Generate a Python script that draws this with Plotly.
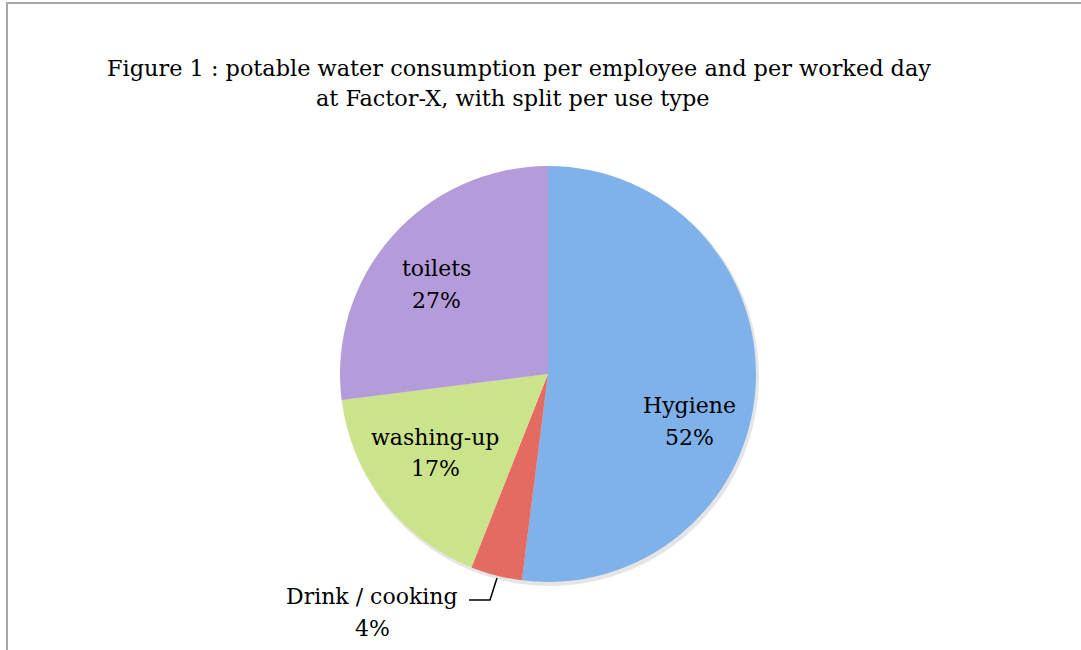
import plotly.graph_objects as go

categories = ["Hygiene", "Drink / cooking", "washing-up", "toilets"]
values = [52, 4, 17, 27]
colors = ["#7fb2ea", "#e46b62", "#cbe48c", "#b49bd9"]
title_lines = ["Figure 1 : potable water consumption per employee and per worked day",
               "at Factor-X, with split per use type"]

W, H = 1081, 650
cx, cy, r = 548, 374, 208

fig = go.Figure()
fig.add_trace(go.Pie(
    labels=categories, values=values, sort=False, direction="clockwise", rotation=0,
    marker=dict(colors=colors, line=dict(width=0)),
    textinfo="none", hoverinfo="label+percent", showlegend=False,
    domain=dict(x=[(cx - r) / W, (cx + r) / W], y=[1 - (cy + r) / H, 1 - (cy - r) / H]),
))

font = "DejaVu Serif"
total = sum(values)
# (x, y of first line, y of second line) in pixels
label_pos = {
    "Hygiene": (689, 405, 437),
    "Drink / cooking": (372, 596, 628),
    "washing-up": (435, 437, 468),
    "toilets": (436, 268, 300),
}
annotations = []
for c, v in zip(categories, values):
    x, y1, y2 = label_pos[c]
    for txt, yy in ((c, y1), (f"{round(100 * v / total)}%", y2)):
        annotations.append(dict(
            x=x / W, y=1 - yy / H, xref="paper", yref="paper", showarrow=False,
            text=txt, align="center",
            font=dict(family=font, size=22, color="#000000"),
            xanchor="center", yanchor="middle"))
for txt, xx, yy in ((title_lines[0], 519, 68), (title_lines[1], 513, 98)):
    annotations.append(dict(
        x=xx / W, y=1 - yy / H, xref="paper", yref="paper", showarrow=False,
        text=txt, align="center",
        font=dict(family=font, size=22.4, color="#000000"),
        xanchor="center", yanchor="middle"))

shapes = [
    dict(type="circle", xref="paper", yref="paper",
         x0=(cx - r + 1) / W, x1=(cx + r + 3) / W, y0=1 - (cy + r + 4) / H, y1=1 - (cy - r + 1) / H,
         line=dict(width=0), fillcolor="rgba(0,0,0,0.10)", layer="below"),
    dict(type="rect", xref="paper", yref="paper", x0=7 / W, x1=1.02, y0=-0.02, y1=1 - 3 / H,
         line=dict(color="#a8a8a8", width=2), fillcolor="rgba(0,0,0,0)", layer="below"),
    dict(type="path", xref="paper", yref="paper",
         path=f"M {497 / W} {1 - 578 / H} L {490 / W} {1 - 600 / H} L {469 / W} {1 - 600 / H}",
         line=dict(color="#000000", width=1.5)),
]

fig.update_layout(
    width=W, height=H, margin=dict(l=0, r=0, t=0, b=0),
    paper_bgcolor="white", plot_bgcolor="white",
    annotations=annotations, shapes=shapes,
)
fig.write_html("out.html", config={"displayModeBar": False},
               post_script="document.body.style.margin='0';document.body.style.overflow='hidden';")
